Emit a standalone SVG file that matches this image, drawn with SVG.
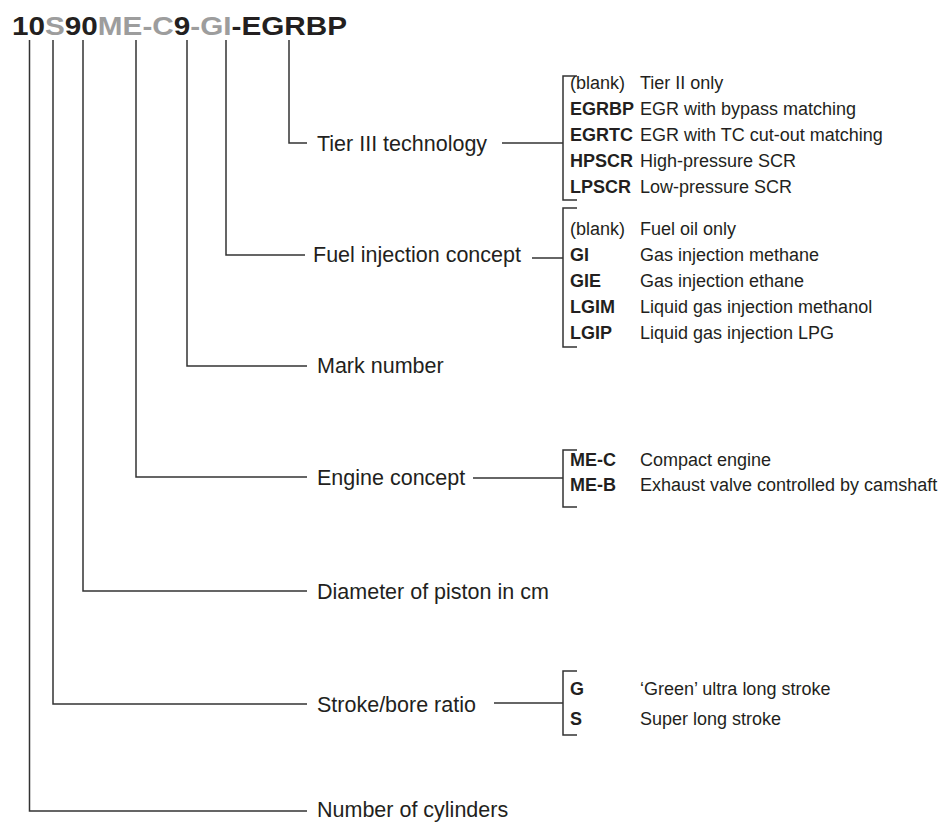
<svg xmlns="http://www.w3.org/2000/svg" width="950" height="824" viewBox="0 0 950 824">
<style>
.ln{stroke:#333;stroke-width:1.5;fill:none}
.lbl{font-family:"Liberation Sans",Arial,sans-serif;font-size:21.5px;fill:#231f20}
.opt{font-family:"Liberation Sans",Arial,sans-serif;font-size:18px;fill:#231f20}
.code{font-family:"Liberation Sans",Arial,sans-serif;font-size:18px;font-weight:bold;fill:#231f20}
.title{font-family:"Liberation Sans",Arial,sans-serif;font-size:26px;font-weight:bold;fill:#231f20}
.g{fill:#9d9d9d}
</style>
<rect width="950" height="824" fill="#fff"/>
<g id="title">
<text class="title" x="12" y="35" textLength="335" lengthAdjust="spacingAndGlyphs">10<tspan class="g">S</tspan>90<tspan class="g">ME-C</tspan>9<tspan class="g">-GI</tspan>-EGRBP</text>
</g>
<g id="connectors">
<path class="ln" d="M289 40V143H307"/>
<path class="ln" d="M226 40V255H305"/>
<path class="ln" d="M187 40V366H307"/>
<path class="ln" d="M136 40V477H307"/>
<path class="ln" d="M83 40V591H307"/>
<path class="ln" d="M53 40V704H307"/>
<path class="ln" d="M29.5 40V811H307"/>
<path class="ln" d="M502 143H563"/>
<path class="ln" d="M532 258H563"/>
<path class="ln" d="M473 478H563"/>
<path class="ln" d="M494 703H563"/>
</g>
<g id="tier3">
<text class="lbl" x="317" y="151">Tier III technology</text>
<path class="ln" d="M577 76H563V200H577"/>
<text class="opt" x="570" y="89">(blank)</text><text class="opt" x="640" y="89">Tier II only</text>
<text class="code" x="570" y="115">EGRBP</text><text class="opt" x="640" y="115">EGR with bypass matching</text>
<text class="code" x="570" y="141">EGRTC</text><text class="opt" x="640" y="141">EGR with TC cut-out matching</text>
<text class="code" x="570" y="167">HPSCR</text><text class="opt" x="640" y="167">High-pressure SCR</text>
<text class="code" x="570" y="193">LPSCR</text><text class="opt" x="640" y="193">Low-pressure SCR</text>
</g>
<g id="fuel">
<text class="lbl" x="313" y="262">Fuel injection concept</text>
<path class="ln" d="M577 208H563V347H577"/>
<text class="opt" x="570" y="235">(blank)</text><text class="opt" x="640" y="235">Fuel oil only</text>
<text class="code" x="570" y="261">GI</text><text class="opt" x="640" y="261">Gas injection methane</text>
<text class="code" x="570" y="287">GIE</text><text class="opt" x="640" y="287">Gas injection ethane</text>
<text class="code" x="570" y="313">LGIM</text><text class="opt" x="640" y="313">Liquid gas injection methanol</text>
<text class="code" x="570" y="339">LGIP</text><text class="opt" x="640" y="339">Liquid gas injection LPG</text>
</g>
<g id="mark">
<text class="lbl" x="317" y="373">Mark number</text>
</g>
<g id="engine">
<text class="lbl" x="317" y="485">Engine concept</text>
<path class="ln" d="M577 450H563V507H577"/>
<text class="code" x="570" y="466">ME-C</text><text class="opt" x="640" y="466">Compact engine</text>
<text class="code" x="570" y="491">ME-B</text><text class="opt" x="640" y="491">Exhaust valve controlled by camshaft</text>
</g>
<g id="diameter">
<text class="lbl" x="317" y="599">Diameter of piston in cm</text>
</g>
<g id="stroke">
<text class="lbl" x="317" y="712">Stroke/bore ratio</text>
<path class="ln" d="M577 671H563V735H577"/>
<text class="code" x="570" y="695">G</text><text class="opt" x="640" y="695">‘Green’ ultra long stroke</text>
<text class="code" x="570" y="725">S</text><text class="opt" x="640" y="725">Super long stroke</text>
</g>
<g id="cylinders">
<text class="lbl" x="317" y="817">Number of cylinders</text>
</g>
</svg>
